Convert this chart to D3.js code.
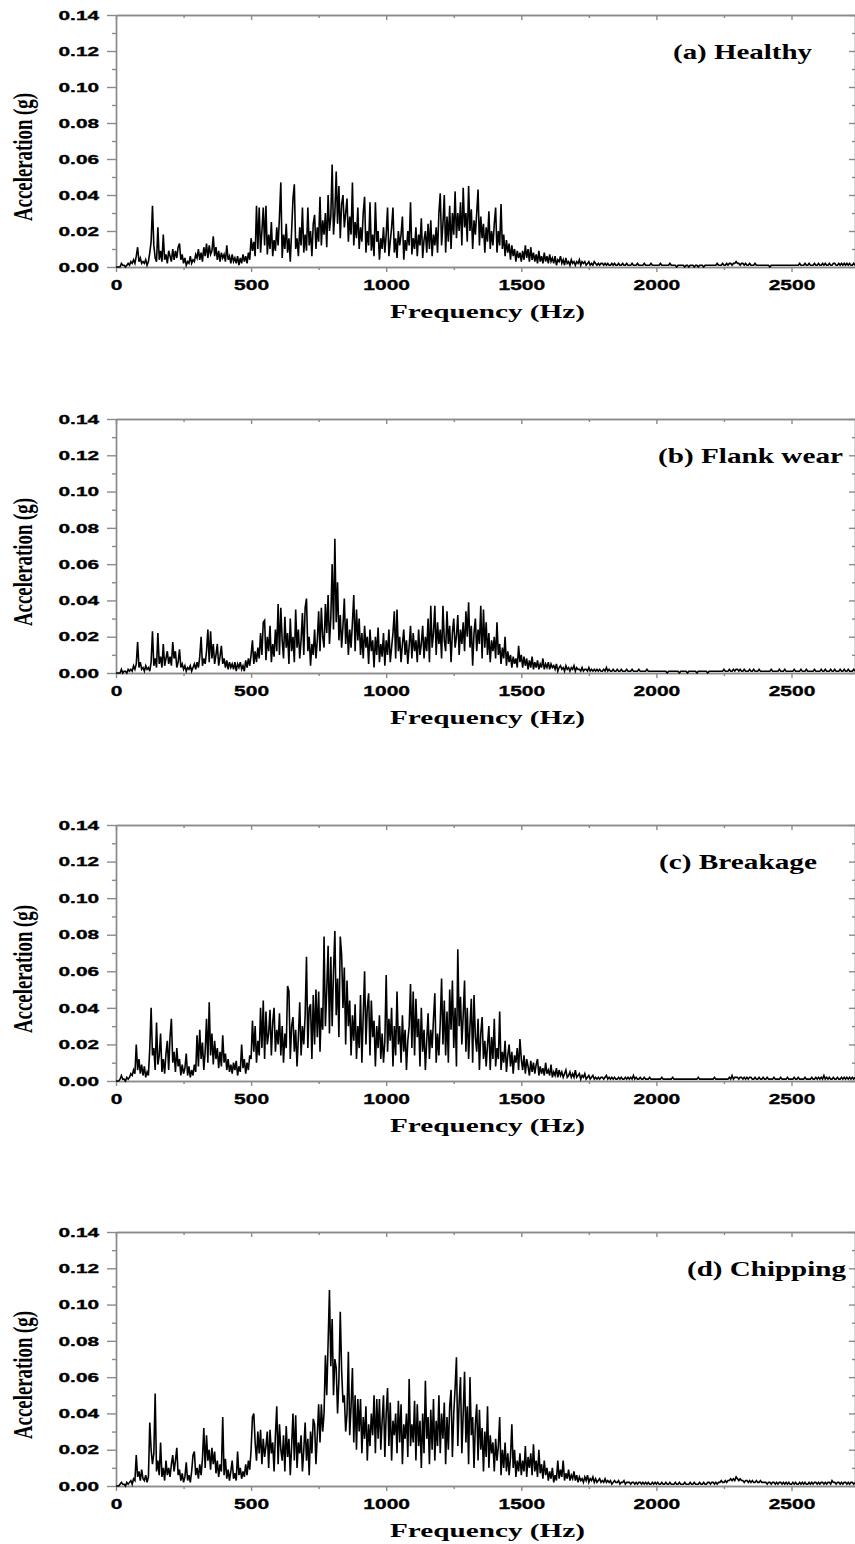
<!DOCTYPE html>
<html>
<head>
<meta charset="UTF-8">
<script src="https://d3js.org/d3.v7.min.js"></script>
<style>
  body { margin: 0; background: #fff; }
  .tick text { font-family: 'Liberation Sans', Arial, sans-serif; font-weight: bold; fill: #000; stroke: #000; stroke-width: 0.35; }
  .serif { font-family: 'Liberation Serif', 'Times New Roman', serif; font-weight: bold; fill: #000; }
</style>
</head>
<body>
<svg id="chart"></svg>
<script>
// spectra, one value every 5 Hz from 0 Hz, in milli-g
const freqStepHz = 5;

const healthy = [
  0,0,0,0,2,1,1,0,1,2,1,3,2,4,2,6,11,3,5,2,
  3,2,4,1,3,8,14,34,12,5,3,22,4,9,3,18,4,7,2,9,
  6,3,10,4,9,5,11,13,4,7,2,5,1,3,2,6,2,4,3,7,
  5,10,4,8,3,11,6,13,5,12,7,9,17,6,11,4,9,3,8,5,
  7,3,12,4,6,2,7,3,5,2,6,1,5,2,7,3,6,2,8,4,
  16,9,14,6,34,10,33,8,20,33,12,34,7,18,10,25,6,15,9,22,
  12,28,47,5,18,10,24,8,16,3,20,38,46,10,16,6,22,12,33,8,
  18,9,33,12,20,6,24,29,10,22,14,39,12,26,18,30,11,40,20,28,
  57,18,30,53,24,45,16,35,40,22,30,38,14,28,18,47,12,25,16,33,
  10,22,14,30,39,8,20,12,36,9,18,6,36,14,20,4,16,10,22,8,
  18,33,6,14,22,33,8,16,5,20,12,18,28,4,15,9,20,12,36,7,
  16,10,22,6,18,12,27,5,15,20,8,24,10,26,6,18,12,22,8,30,
  41,12,24,40,8,28,14,34,10,30,18,42,16,30,20,36,12,44,22,30,
  14,45,20,32,10,26,18,30,43,12,28,16,24,8,22,14,31,10,20,12,
  24,33,8,20,12,35,10,18,6,15,8,13,4,12,6,10,3,9,5,8,
  3,9,4,12,5,10,3,11,4,8,3,7,2,9,3,6,2,8,3,6,
  2,7,3,5,2,6,1,4,3,6,2,4,1,5,2,3,1,4,2,3,
  1,3,2,4,1,3,2,3,1,2,3,1,2,1,3,2,1,2,1,2,
  2,1,2,1,2,1,1,2,1,2,1,1,2,1,1,2,1,1,2,1,
  1,1,2,1,1,1,2,1,1,1,1,2,1,1,1,1,2,1,1,1,
  1,1,1,2,1,1,1,1,1,1,2,1,1,1,1,0,1,1,1,1,
  1,0,1,1,0,1,1,1,0,1,1,0,1,1,1,0,1,1,1,1,
  1,1,1,1,1,2,1,1,1,2,1,1,2,1,2,2,1,2,2,3,
  2,2,1,2,2,1,2,1,1,2,1,1,1,2,1,1,1,1,1,1,
  1,1,1,1,0,1,1,1,1,1,1,1,1,1,1,1,1,1,1,1,
  1,1,1,1,1,1,2,1,1,1,2,1,1,2,1,1,1,2,1,1,
  2,1,1,2,1,2,1,1,2,1,1,2,2,1,1,2,1,2,1,2,
  1,2,1,2,1,1,2,1
];

const flankWear = [
  0,0,0,0,2,0,1,1,0,2,1,2,1,4,2,5,17,3,6,2,
  3,1,4,2,3,1,6,23,4,8,3,22,5,9,3,16,4,8,12,5,
  9,4,17,8,12,3,6,13,3,5,2,4,1,3,2,4,1,3,5,2,
  6,3,9,20,4,8,5,12,24,6,23,8,16,5,10,16,4,9,15,5,
  8,3,7,2,6,3,5,2,6,1,5,3,6,2,4,1,7,3,8,4,
  10,18,5,12,6,14,8,22,10,28,29,7,20,12,26,6,16,9,24,12,
  38,10,36,18,8,31,14,22,5,30,12,20,6,35,14,24,8,18,33,10,
  36,41,12,20,4,16,10,24,8,18,34,12,36,20,14,38,22,43,16,30,
  60,24,74,28,50,18,32,14,26,41,16,30,10,24,14,28,43,12,35,18,
  30,10,22,8,26,14,20,5,24,12,18,3,20,10,25,6,16,9,22,4,
  18,10,24,6,14,22,34,8,35,12,20,6,16,24,10,18,5,15,26,8,
  22,12,18,6,24,10,16,26,8,20,12,30,6,37,14,22,37,10,28,16,
  24,8,37,18,12,34,16,26,6,22,30,14,20,32,10,24,16,28,12,34,
  20,39,14,26,4,22,30,12,24,16,37,8,35,14,28,10,22,6,18,12,
  20,8,28,10,16,5,14,8,20,4,12,6,10,3,9,5,8,3,15,6,
  10,3,9,4,8,2,7,3,9,2,6,3,7,2,5,3,8,2,5,3,
  6,2,5,3,4,2,5,1,3,4,2,3,1,4,2,3,1,3,2,4,
  1,3,2,2,1,3,1,2,2,1,3,1,2,1,2,1,2,1,2,1,
  1,2,1,3,1,2,1,1,2,1,1,2,1,1,2,1,1,1,2,1,
  1,1,2,1,1,1,1,2,1,1,1,1,1,2,1,1,1,1,1,1,
  1,1,1,1,1,1,1,1,0,1,1,1,1,1,1,1,1,0,1,1,
  1,1,1,0,1,1,1,1,1,1,0,1,1,1,1,1,1,1,0,1,
  1,1,1,1,1,1,1,1,1,1,2,1,1,1,2,1,1,2,1,2,
  2,1,2,1,1,2,1,1,1,2,1,1,2,1,1,1,2,1,1,1,
  1,1,1,1,1,2,1,1,1,1,1,2,1,1,1,2,1,1,1,1,
  1,1,2,1,1,1,1,2,1,1,1,2,1,1,1,1,1,2,1,1,
  1,1,2,1,1,2,1,1,1,2,1,1,2,1,1,1,2,1,1,2,
  1,1,2,1,1,1,2,1
];

const breakage = [
  0,0,0,1,3,1,1,0,2,1,2,4,3,6,4,20,6,12,4,9,
  3,8,2,5,3,18,40,14,18,6,32,9,14,26,5,12,4,15,22,6,
  24,34,10,16,5,18,8,12,3,9,4,7,15,3,8,2,6,3,9,5,
  25,8,28,12,21,6,16,34,10,43,14,26,9,22,12,18,7,16,8,25,
  10,15,6,12,5,9,4,10,6,11,3,8,5,20,7,12,4,10,6,14,
  12,33,16,30,10,22,14,40,18,44,12,38,20,26,39,14,32,40,16,28,
  20,37,14,30,10,26,18,52,49,12,30,35,16,28,8,24,43,14,30,20,
  36,68,18,40,42,12,47,20,50,24,49,16,40,28,79,30,50,74,26,68,
  30,60,82,36,56,24,79,69,40,62,20,55,30,44,14,36,22,42,12,30,
  18,47,10,36,60,20,40,48,14,44,24,33,8,30,18,36,12,26,10,22,
  58,16,34,22,40,8,30,14,49,20,30,10,36,16,28,6,22,30,53,18,
  49,14,45,24,34,8,40,16,28,6,22,37,12,28,18,34,48,10,26,14,
  32,56,20,44,14,38,10,50,28,55,18,40,8,72,30,46,20,36,55,16,
  40,12,30,45,10,47,24,16,34,6,26,35,12,22,8,20,30,6,24,12,
  34,8,18,12,38,6,16,10,22,5,14,20,8,16,4,14,10,18,6,23,
  12,6,14,4,12,8,3,11,5,10,4,9,12,3,8,4,7,3,10,4,
  6,3,9,2,5,3,7,2,6,3,5,2,4,6,2,3,5,2,4,2,
  6,2,3,4,1,3,2,4,1,2,3,1,2,3,1,2,1,2,1,2,
  2,1,2,3,1,2,1,2,1,2,1,1,2,1,2,1,1,2,1,2,
  1,2,1,3,1,2,1,1,2,1,1,2,1,1,1,2,1,1,1,1,
  1,1,1,1,2,1,1,1,1,1,1,1,2,1,1,1,1,1,1,1,
  1,1,1,1,1,1,1,1,1,1,1,2,1,1,1,1,1,1,1,1,
  1,1,1,2,1,1,1,1,1,1,1,1,1,1,2,1,3,1,2,2,
  2,1,2,2,1,2,1,2,1,2,2,1,1,2,1,1,2,1,1,2,
  1,1,2,1,1,1,1,2,1,1,1,1,2,1,1,1,1,2,1,1,
  1,1,2,1,1,2,1,1,1,1,2,1,1,1,1,2,1,1,2,1,
  2,1,2,1,3,1,2,1,2,1,1,2,1,1,2,1,1,2,1,2,
  1,2,1,2,1,2,1,2
];

const chipping = [
  0,0,0,1,2,1,1,0,2,1,2,3,1,4,3,17,5,8,3,9,
  4,3,6,2,5,35,20,12,18,51,8,14,6,24,5,10,3,14,6,10,
  5,12,17,8,14,21,6,9,3,7,2,5,13,3,6,2,8,17,19,6,
  10,4,12,6,15,32,10,28,14,20,9,21,12,19,7,14,5,12,8,38,
  6,15,4,9,3,8,14,4,7,3,19,6,10,4,8,5,12,6,14,9,
  20,38,40,24,14,30,18,31,12,26,16,22,30,10,31,18,24,8,28,44,
  12,34,20,14,28,8,33,16,26,6,22,40,14,39,10,24,18,28,8,20,
  35,14,26,6,30,18,37,34,12,28,45,24,45,30,40,72,50,79,108,66,
  92,50,70,65,40,59,96,64,46,50,30,40,74,28,44,65,24,50,20,48,
  30,48,18,38,26,44,14,34,22,40,28,50,18,48,26,48,20,36,50,16,
  40,54,22,46,14,36,28,40,18,47,24,45,12,34,26,40,16,59,22,34,
  24,47,14,45,22,36,10,40,18,58,26,38,12,42,20,48,14,36,22,50,
  18,40,26,46,12,38,20,44,53,16,40,54,71,22,46,60,18,40,63,24,
  44,12,60,28,38,10,34,45,14,42,20,32,8,30,16,44,10,28,18,24,
  8,26,14,22,38,6,20,10,24,8,18,6,16,34,10,20,5,14,8,18,
  6,14,8,22,5,16,10,18,6,23,8,14,5,20,7,12,4,14,6,10,
  3,8,4,10,2,6,3,14,4,9,5,14,3,7,4,9,3,6,4,8,
  3,6,2,5,3,4,2,5,3,6,2,4,3,5,2,4,2,3,4,2,
  3,2,4,2,3,2,3,1,2,3,2,2,3,1,2,2,3,1,2,2,
  2,1,2,2,1,2,1,2,2,1,2,1,2,1,2,1,1,2,1,2,
  1,2,1,1,2,1,1,2,1,1,2,1,1,1,2,1,1,2,1,1,
  1,2,1,1,1,2,1,1,2,1,1,1,2,1,1,2,1,1,2,2,
  1,2,2,1,2,1,2,2,3,2,2,3,2,3,3,4,3,4,3,5,
  4,3,4,3,3,2,3,3,2,3,2,3,2,2,3,2,2,3,2,2,
  2,2,1,2,2,1,2,2,1,2,1,2,2,1,2,1,2,1,2,1,
  1,2,1,2,1,1,2,1,2,1,2,1,1,2,1,2,1,2,2,1,
  2,1,2,2,1,2,1,2,2,1,3,2,2,1,2,2,1,2,1,2,
  2,1,2,1,2,2,1,2
];

const panelSeries = [healthy, flankWear, breakage, chipping];
const panelTitles = ['(a) Healthy', '(b) Flank wear', '(c) Breakage', '(d) Chipping'];
const xTicks = [0, 500, 1000, 1500, 2000, 2500];
const xMinorTicks = [250, 750, 1250, 1750, 2250];
const yTicks = [0, 0.02, 0.04, 0.06, 0.08, 0.10, 0.12, 0.14];
const yMinorTicks = [0.01, 0.03, 0.05, 0.07, 0.09, 0.11, 0.13];

// layout
const W = 855, H = 1544;
const plotLeft = 116, plotRight = 855;
const tops = [15, 419, 825, 1232];
const bottoms = [267, 673, 1081, 1486];
const titleX = [673, 658, 659, 687];
const titleW = [139, 185, 158, 159];
const axisColor = '#8a8a8a';

const svg = d3.select('#chart').attr('width', W).attr('height', H);

const x = d3.scaleLinear().domain([0, 2735]).range([plotLeft, plotRight]);

function styleAxis(g) {
  g.selectAll('.domain, .tick line').attr('stroke', axisColor).attr('stroke-width', 1.4);
}

panelSeries.forEach((series, k) => {
  const y = d3.scaleLinear().domain([0, 0.14]).range([bottoms[k], tops[k]]);
  const g = svg.append('g').attr('class', 'panel');

  // bottom axis
  const gb = g.append('g').attr('transform', `translate(0,${bottoms[k]})`)
    .call(d3.axisBottom(x).tickValues(xTicks).tickSize(5).tickSizeOuter(0).tickPadding(7).tickFormat(d3.format('d')));
  gb.selectAll('.tick text').attr('font-size', 15).attr('transform', 'scale(1.4,1)');
  styleAxis(gb);
  styleAxis(g.append('g').attr('transform', `translate(0,${bottoms[k]})`)
    .call(d3.axisBottom(x).tickValues(xMinorTicks).tickSize(3).tickSizeOuter(0).tickFormat('')));

  // top axis, ticks inward
  styleAxis(g.append('g').attr('transform', `translate(0,${tops[k]})`)
    .call(d3.axisTop(x).tickValues(xTicks).tickSize(-5).tickSizeOuter(0).tickFormat('')));
  styleAxis(g.append('g').attr('transform', `translate(0,${tops[k]})`)
    .call(d3.axisTop(x).tickValues(xMinorTicks).tickSize(-3).tickSizeOuter(0).tickFormat('')));

  // left axis
  const gl = g.append('g').attr('transform', `translate(${plotLeft},0)`)
    .call(d3.axisLeft(y).tickValues(yTicks).tickSize(9).tickSizeOuter(0).tickFormat(d3.format('.2f')));
  gl.selectAll('.tick text').attr('font-size', 13).attr('x', -17 / 1.6).attr('transform', 'scale(1.6,1)');
  styleAxis(gl);
  styleAxis(g.append('g').attr('transform', `translate(${plotLeft},0)`)
    .call(d3.axisLeft(y).tickValues(yMinorTicks).tickSize(4).tickSizeOuter(0).tickFormat('')));

  // right axis, ticks inward
  styleAxis(g.append('g').attr('transform', `translate(${plotRight},0)`)
    .call(d3.axisRight(y).tickValues(yTicks).tickSize(-6).tickSizeOuter(0).tickFormat('')));
  styleAxis(g.append('g').attr('transform', `translate(${plotRight},0)`)
    .call(d3.axisRight(y).tickValues(yMinorTicks).tickSize(-3).tickSizeOuter(0).tickFormat('')));

  // spectrum
  const line = d3.line()
    .x((d, i) => x(i * freqStepHz))
    .y(d => y(d / 1000));
  g.append('path')
    .datum(series)
    .attr('d', line)
    .attr('fill', 'none')
    .attr('stroke', '#000')
    .attr('stroke-width', 1.6)
    .attr('stroke-linejoin', 'miter');

  // panel title
  g.append('text').attr('class', 'serif')
    .attr('x', titleX[k]).attr('y', tops[k] + 44)
    .attr('font-size', 21)
    .attr('textLength', titleW[k]).attr('lengthAdjust', 'spacingAndGlyphs')
    .text(panelTitles[k]);

  // y label
  g.append('text').attr('class', 'serif')
    .attr('transform', `translate(32,${(tops[k] + bottoms[k]) / 2 + 16}) scale(1.5,1) rotate(-90)`)
    .attr('text-anchor', 'middle')
    .attr('font-size', 18.5)
    .attr('textLength', 128).attr('lengthAdjust', 'spacingAndGlyphs')
    .text('Acceleration (g)');

  // x label
  g.append('text').attr('class', 'serif')
    .attr('x', 390).attr('y', bottoms[k] + 51)
    .attr('font-size', 18)
    .attr('textLength', 195).attr('lengthAdjust', 'spacingAndGlyphs')
    .text('Frequency (Hz)');
});
</script>
</body>
</html>
